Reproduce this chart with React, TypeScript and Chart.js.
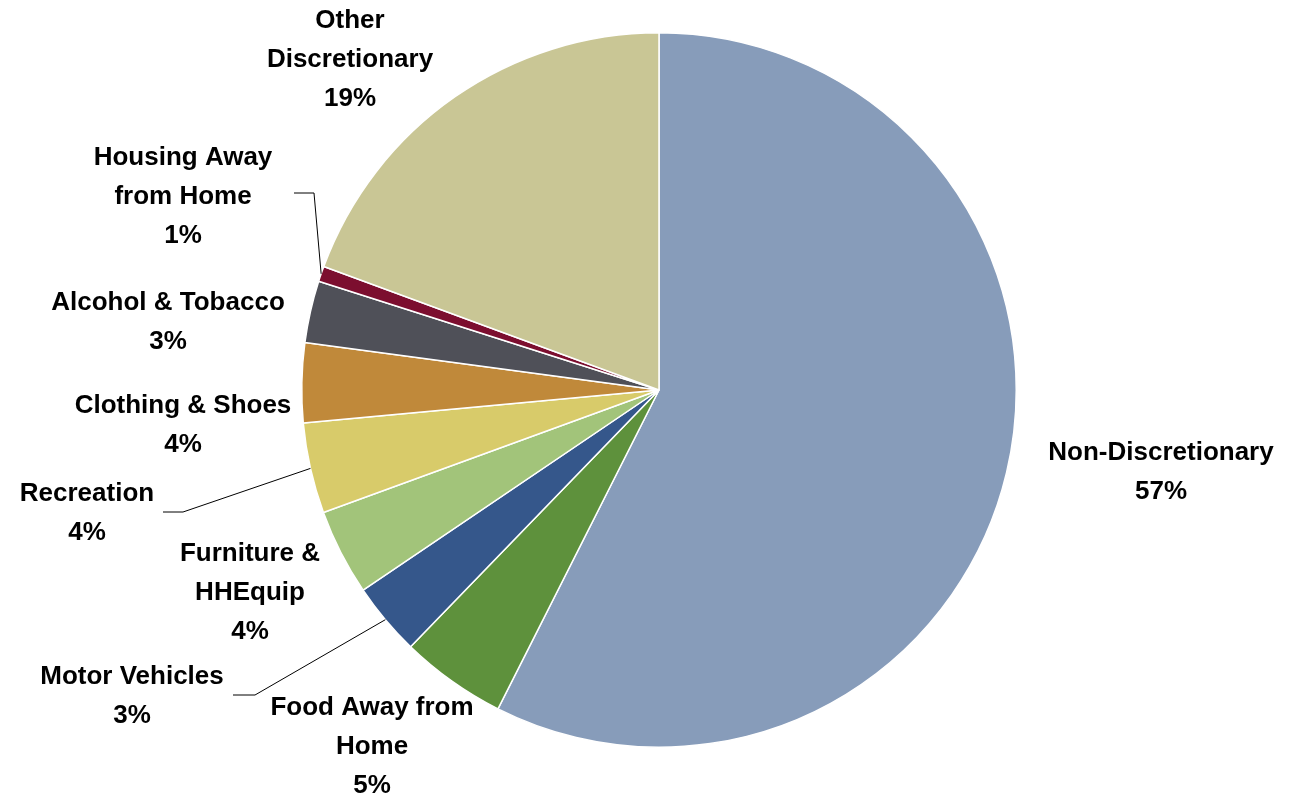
import React, { useEffect, useRef } from "react";
import { Chart, registerables } from "chart.js";

Chart.register(...registerables);

const CATEGORIES: string[][] = [
  ["Non-Discretionary"],
  ["Food Away from", "Home"],
  ["Motor Vehicles"],
  ["Furniture &", "HHEquip"],
  ["Recreation"],
  ["Clothing & Shoes"],
  ["Alcohol & Tobacco"],
  ["Housing Away", "from Home"],
  ["Other", "Discretionary"],
];
const SHARES: number[] = [57.5, 4.8, 3.3, 3.9, 4.1, 3.6, 2.8, 0.7, 19.4];
const PERCENT_LABELS: string[] = ["57%", "5%", "3%", "4%", "4%", "4%", "3%", "1%", "19%"];
const COLORS: string[] = [
  "#879cba",
  "#5e913c",
  "#35578b",
  "#a2c47a",
  "#d8cb6a",
  "#c0893a",
  "#4f5058",
  "#7c0e2f",
  "#c9c695",
];

// label layout: text center (dx, dy of first line) relative to pie center; optional leader line
type LabelLayout = { dx: number; dy: number; leader?: { elbow: [number, number]; end: [number, number] } };
const LABEL_LAYOUT: LabelLayout[] = [
  { dx: 502, dy: 63 },
  { dx: -287, dy: 318 },
  { dx: -527, dy: 287, leader: { elbow: [-404, 305], end: [-426, 305] } },
  { dx: -409, dy: 164 },
  { dx: -572, dy: 104, leader: { elbow: [-476, 122], end: [-496, 122] } },
  { dx: -476, dy: 16 },
  { dx: -491, dy: -87 },
  { dx: -476, dy: -232, leader: { elbow: [-345, -197], end: [-365, -197] } },
  { dx: -309, dy: -369 },
];
const LINE_HEIGHT = 38.7;
const FONT = "bold 26px 'Liberation Sans', Arial, sans-serif";

const labelPlugin = {
  id: "pieLabels",
  afterDatasetsDraw(chart: any) {
    const ctx = chart.ctx as CanvasRenderingContext2D;
    const meta = chart.getDatasetMeta(0);
    ctx.save();
    meta.data.forEach((arc: any, i: number) => {
      const { x: cx, y: cy, startAngle, endAngle, outerRadius } = arc.getProps(
        ["x", "y", "startAngle", "endAngle", "outerRadius"],
        true
      );
      const lay = LABEL_LAYOUT[i];
      if (lay.leader) {
        const mid = (startAngle + endAngle) / 2;
        const px = cx + Math.cos(mid) * outerRadius;
        const py = cy + Math.sin(mid) * outerRadius;
        ctx.beginPath();
        ctx.strokeStyle = "#000";
        ctx.lineWidth = 1;
        ctx.moveTo(px, py);
        ctx.lineTo(cx + lay.leader.elbow[0], cy + lay.leader.elbow[1]);
        ctx.lineTo(cx + lay.leader.end[0], cy + lay.leader.end[1]);
        ctx.stroke();
      }
      const lines = [...CATEGORIES[i], PERCENT_LABELS[i]];
      ctx.font = FONT;
      ctx.fillStyle = "#000";
      ctx.textAlign = "center";
      ctx.textBaseline = "middle";
      lines.forEach((t, k) => {
        ctx.fillText(t, cx + lay.dx, cy + lay.dy + k * LINE_HEIGHT);
      });
    });
    ctx.restore();
  },
};

export default function App() {
  const ref = useRef<HTMLCanvasElement>(null);
  useEffect(() => {
    document.body.style.margin = "0";
    const chart = new Chart(ref.current!, {
      type: "pie",
      data: {
        labels: CATEGORIES.map((c) => c.join(" ")),
        datasets: [
          {
            data: SHARES,
            backgroundColor: COLORS,
            borderColor: "#ffffff",
            borderWidth: 1.5,
          },
        ],
      },
      options: {
        animation: false,
        responsive: false,
        layout: { padding: { top: 32, bottom: 52, left: 29, right: 0 } },
        plugins: { legend: { display: false }, tooltip: { enabled: false } },
      },
      plugins: [labelPlugin],
    });
    return () => chart.destroy();
  }, []);
  return (
    <div style={{ position: "fixed", left: 0, top: 0, width: 1289, height: 800, background: "#fff" }}>
      <canvas ref={ref} width={1289} height={800} style={{ width: 1289, height: 800 }} />
    </div>
  );
}
